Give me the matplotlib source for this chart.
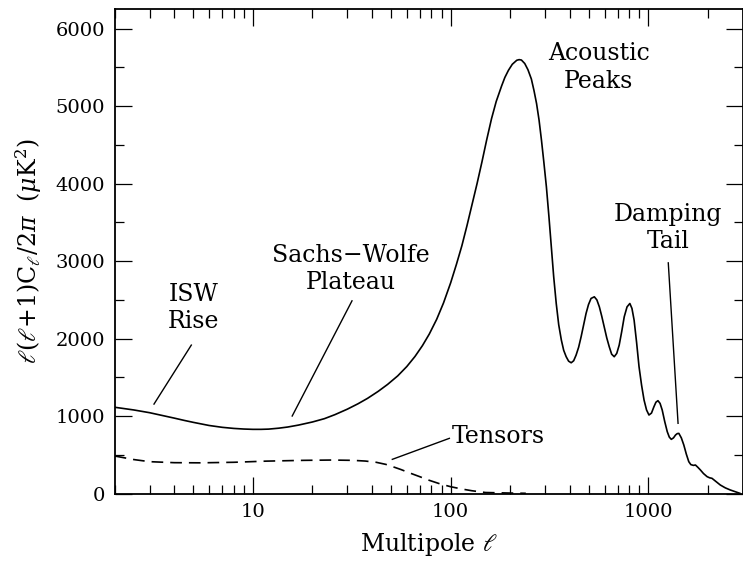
import matplotlib
matplotlib.use("Agg")
import matplotlib.pyplot as plt
from matplotlib import ticker

# Temperature power spectrum, l(l+1)C_l/2pi in uK^2
ell = [2, 2.5, 3, 3.5, 4, 4.5, 5, 6, 7, 8, 9, 10, 11, 12, 13.5, 15, 17, 20,
       23, 26, 30, 34, 38, 43, 48, 54, 60, 66, 72, 78, 85, 92, 100, 107, 114,
       121, 128, 136, 144, 152, 161, 170, 181, 188, 196, 205, 216, 222, 228,
       237, 246, 256, 264, 272, 280, 288, 296, 305, 314, 323, 332, 342, 352,
       363, 373, 384, 395, 407, 419, 431, 444, 457, 470, 484, 498, 513, 533,
       549, 565, 581, 598, 616, 634, 652, 672, 692, 712, 733, 755, 780, 806,
       826, 847, 872, 897, 924, 951, 979, 1007, 1037, 1067, 1092, 1118, 1146,
       1175, 1210, 1246, 1276, 1306, 1340, 1372, 1400, 1426, 1468, 1511, 1556,
       1601, 1640, 1690, 1730, 1780, 1833, 1900, 1981, 2040, 2098, 2200, 2311,
       2450, 2595, 2750, 2900]
cl_scalar = [1115, 1080, 1045, 1008, 975, 945, 920, 880, 856, 842, 834, 830,
             830, 833, 845, 860, 885, 925, 968, 1020, 1090, 1160, 1230, 1320,
             1410, 1520, 1640, 1770, 1910, 2060, 2250, 2460, 2720, 2960, 3200,
             3460, 3722, 4000, 4281, 4560, 4839, 5060, 5260, 5370, 5462, 5540,
             5592, 5600, 5595, 5550, 5470, 5350, 5200, 5033, 4820, 4560, 4280,
             3958, 3580, 3185, 2800, 2454, 2180, 1982, 1850, 1767, 1710, 1689,
             1715, 1788, 1890, 2025, 2175, 2325, 2440, 2519, 2540, 2500, 2411,
             2290, 2153, 2010, 1896, 1800, 1767, 1810, 1917, 2090, 2282, 2410,
             2454, 2390, 2239, 1950, 1638, 1400, 1208, 1080, 1015, 1040, 1122,
             1180, 1200, 1165, 1079, 930, 800, 730, 701, 720, 757, 775, 778,
             720, 628, 510, 413, 375, 365, 370, 340, 306, 260, 220, 205, 198,
             155, 112, 75, 48, 25, 5]

ell_t = [2, 2.5, 3, 4, 5.4, 8, 11.7, 18, 25, 32, 37, 42, 47, 51, 56, 62, 70,
         77, 88, 100, 114, 128, 150, 200, 240]
cl_tensor = [486, 440, 413, 400, 398, 405, 420, 430, 434, 430, 421, 405, 378,
             348, 312, 268, 218, 177, 128, 90, 60, 38, 15, 8, 5]

# label text, text position (l, value), leader line (l0, v0, l1, v1), alignment
notes = [
    ("ISW\nRise", (5.0, 2394), (4.88, 1917, 3.16, 1156), "center"),
    ("Sachs\u2212Wolfe\nPlateau", (31.4, 2897), (31.7, 2488, 15.8, 1002), "center"),
    ("Acoustic\nPeaks", (561, 5501), None, "center"),
    ("Damping\nTail", (1261, 3425), (1261, 2978, 1413, 908), "center"),
    ("Tensors", (101, 735), (98.5, 714, 50.7, 443), "left"),
]

plt.rcParams['font.family'] = ['DejaVu Serif']
plt.rcParams['mathtext.fontset'] = 'dejavuserif'

fig = plt.figure(figsize=(7.43, 5.61), dpi=100)
ax = fig.add_axes([0.1544, 0.12, 0.8452, 0.8635])

ax.plot(ell, cl_scalar, color='black', lw=1.2)
ax.plot(ell_t, cl_tensor, color='black', lw=1.2, dashes=(7, 4.2))

for text, (tx, ty), line, ha in notes:
    ax.text(tx, ty, text, ha=ha, va='center', fontsize=17, linespacing=1.25)
    if line is not None:
        ax.plot([line[0], line[2]], [line[1], line[3]], color='black', lw=1.0)

ax.set_xscale('log')
ax.set_xlim(2, 3000)
ax.set_ylim(0, 6250)

ax.set_xticks([10, 100, 1000])
ax.set_xticklabels(['10', '100', '1000'])
ax.xaxis.set_minor_locator(ticker.LogLocator(base=10, subs=range(2, 10), numticks=20))
ax.xaxis.set_minor_formatter(ticker.NullFormatter())
ax.yaxis.set_major_locator(ticker.MultipleLocator(1000))
ax.yaxis.set_minor_locator(ticker.MultipleLocator(500))

ax.tick_params(which='both', direction='in', top=True, right=True, labelsize=14)
ax.tick_params(which='major', length=12, width=0.9, pad=7)
ax.tick_params(which='minor', length=6.5, width=0.9)
for s in ax.spines.values():
    s.set_linewidth(1.3)

ax.set_xlabel(r'Multipole $\ell$', fontsize=17, labelpad=7)
ax.set_ylabel(r'$\ell(\ell$+1)C$_\ell$/2$\pi$  ($\mu$K$^2$)', fontsize=17, labelpad=8)

fig.savefig('out.png', dpi=100)
